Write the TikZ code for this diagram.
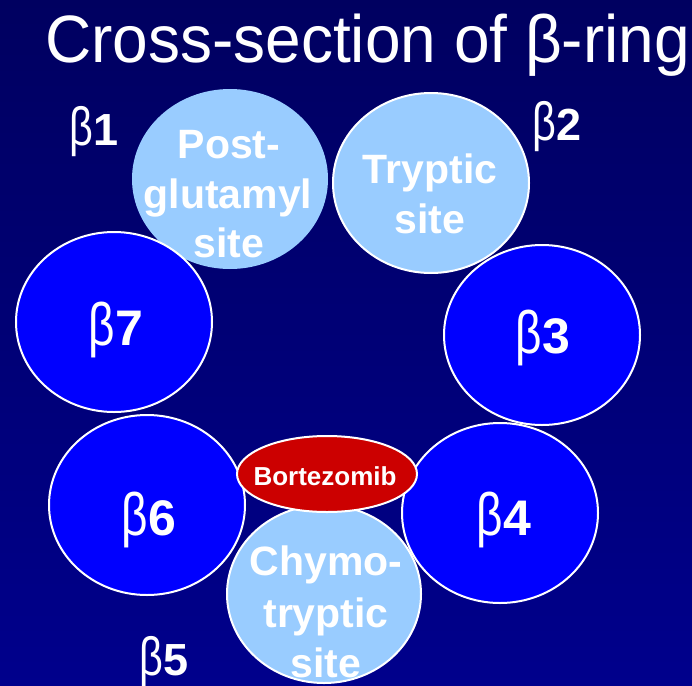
\documentclass[tikz,border=0pt]{standalone}
\usepackage{fontspec}
\setmainfont{Liberation Sans}
\usetikzlibrary{shapes.geometric}
\definecolor{bgtop}{RGB}{0,0,96}
\definecolor{bgbot}{RGB}{0,0,140}
\definecolor{ringblue}{RGB}{0,0,255}
\definecolor{siteblue}{RGB}{153,204,255}
\definecolor{drugred}{RGB}{204,0,0}
\tikzset{
  sub/.style={ellipse, draw=white, line width=2pt, minimum width=196pt, minimum height=180pt, inner sep=0pt},
  ringsub/.style={sub, fill=ringblue},
  sitesub/.style={sub, fill=siteblue},
  sitetext/.style={anchor=base, text=white, font=\bfseries\fontsize{41}{50}\selectfont, inner sep=0pt},
  betain/.style={anchor=base, text=white, font=\bfseries\fontsize{50}{56}\selectfont, inner sep=0pt},
  betaout/.style={anchor=base, text=white, font=\bfseries\fontsize{45}{50}\selectfont, inner sep=0pt},
  drug/.style={ellipse, draw=white, line width=2pt, fill=drugred, minimum width=180pt, minimum height=76pt, inner sep=0pt}
}
\newcommand{\bt}{{\mdseries\scalebox{0.92}[1.2]{β}}}
\begin{document}
\begin{tikzpicture}[x=1pt,y=-1pt]
\useasboundingbox (0,0) rectangle (692,685);
\shade[top color=bgtop, bottom color=bgbot] (0,0) rectangle (692,685);
\node[anchor=base west, text=white, inner sep=0pt, font=\fontsize{67}{72}\selectfont] (title) at (45,63) {\scalebox{0.955}[1]{Cross-section of β-ring}};
% subunits
\node[sitesub, draw=none] (b1) at (230,179) {};
\node[sitetext] (b1a) at (229,158) {Post-};
\node[sitetext] (b1b) at (228,208) {glutamyl};
\node[sitetext] (b1c) at (229,257) {site};
\node[sitesub] (b2) at (431,183) {};
\node[sitetext] (b2a) at (430,183) {Tryptic};
\node[sitetext] (b2b) at (430,233) {site};
\node[ringsub] (b7) at (114,322) {};
\node[betain] (b7t) at (116,345) {\bt 7};
\node[ringsub] (b3) at (542,335) {};
\node[betain] (b3t) at (543,353) {\bt 3};
\node[ringsub] (b6) at (147,505) {};
\node[betain] (b6t) at (149,535) {\bt 6};
\node[ringsub] (b4) at (500,513) {};
\node[betain] (b4t) at (504,535) {\bt 4};
\node[sitesub, minimum width=194pt, minimum height=178pt] (b5) at (324,594) {};
\node[sitetext] (b5a) at (326,575) {Chymo-};
\node[sitetext] (b5b) at (326,627) {tryptic};
\node[sitetext] (b5c) at (326,677) {site};
\node[drug] (bz) at (327,474) {};
\node[anchor=base, text=white, inner sep=0pt, font=\bfseries\fontsize{26}{30}\selectfont] (bzt) at (325,485) {Bortezomib};
% outer labels
\node[betaout] (l1) at (94,145) {\bt 1};
\node[betaout] (l2) at (557,140) {\bt 2};
\node[betaout] (l5) at (164,675) {\bt 5};
\end{tikzpicture}
\end{document}
